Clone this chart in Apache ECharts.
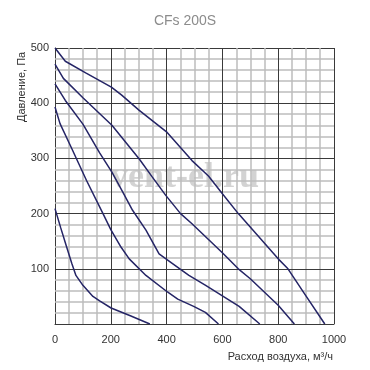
<!DOCTYPE html>
<html>
  <head>
    <meta charset="utf-8" />
    <script src="https://cdn.jsdelivr.net/npm/echarts@6/dist/echarts.min.js"></script>
    <title>CFs 200S</title>
  </head>
  <body style="margin:0">
    <style type="text/css">
      #chart {
        width: 370px;
        height: 370px;
      }
    </style>
    <div id="chart"></div>
  </body>
  <script type="text/javascript">
    // расход, м3/ч -> давление, Па (по кривым)
    const curve1 = [[0, 500], [37, 476], [110, 455], [202, 429], [238, 415], [302, 387], [402, 347], [491, 296], [550, 268], [600, 236], [657, 200], [800, 118], [835, 100], [894, 55], [967, 0]]
    const curve2 = [[0, 471], [30, 445], [100, 410], [204, 360], [249, 332], [302, 299], [349, 266], [397, 233], [450, 200], [490, 182], [598, 130], [657, 100], [700, 82], [800, 34], [858, 0]]
    const curve3 = [[0, 435], [37, 405], [100, 362], [160, 310], [204, 275], [243, 239], [278, 206], [326, 170], [373, 127], [420, 110], [480, 88], [540, 70], [600, 51], [660, 32], [734, 0]]
    const curve4 = [[0, 393], [18, 363], [60, 318], [113, 260], [172, 200], [201, 170], [237, 139], [266, 118], [326, 88], [403, 58], [440, 45], [497, 32], [539, 21], [586, 0]]
    const curve5 = [[0, 209], [20, 175], [42, 139], [60, 110], [75, 88], [100, 70], [136, 50], [160, 42], [201, 29], [270, 15], [340, 0]]
    const curves = [curve1, curve2, curve3, curve4, curve5]

    // сетка: мелкая 50 м3/ч и 20 Па, крупная 200 м3/ч и 100 Па
    var minorX = [], majorX = []
    for (var i = 50; i < 1000; i += 50) (i % 200 ? minorX : majorX).push(i)
    var minorY = [], majorY = []
    for (var j = 20; j < 500; j += 20) (j % 100 ? minorY : majorY).push(j)

    var chart = echarts.init(document.getElementById('chart'))

    var labelStyle = { color: '#333', fontSize: 11, fontFamily: 'Liberation Sans, Arial, sans-serif' }
    var major = { show: true, lineStyle: { color: '#3a3a3a', width: 1 } }

    function gridSeries(xs, ys, style, z) {
      return {
        type: 'line',
        data: [],
        z: z,
        markLine: {
          silent: true,
          symbol: 'none',
          label: { show: false },
          lineStyle: style,
          emphasis: { disabled: true },
          data: xs.map(function (v) { return { xAxis: v } })
            .concat(ys.map(function (v) { return { yAxis: v } }))
        }
      }
    }

    var option = {
      animation: false,
      title: {
        text: 'CFs 200S',
        left: 'center',
        top: 9,
        textStyle: { color: '#8c8c8c', fontSize: 14, fontWeight: 'normal', fontFamily: 'Liberation Sans, Arial, sans-serif' }
      },
      grid: { left: 55, right: 36, top: 48, bottom: 46 },
      xAxis: {
        type: 'value',
        min: 0,
        max: 1000,
        interval: 200,
        axisLine: { show: true, lineStyle: { color: '#3a3a3a' } },
        axisTick: { show: false },
        axisLabel: Object.assign({ margin: 10, formatter: function (v) { return String(v) } }, labelStyle),
        splitLine: major
      },
      yAxis: {
        type: 'value',
        min: 0,
        max: 500,
        interval: 100,
        axisLine: { show: true, lineStyle: { color: '#3a3a3a' } },
        axisTick: { show: false },
        axisLabel: Object.assign({ margin: 6, showMinLabel: false }, labelStyle),
        splitLine: major
      },
      graphic: [
        {
          type: 'text',
          left: 110,
          top: 160,
          z: 4,
          style: {
            text: 'vent-el.ru',
            fill: 'rgba(175,175,175,0.55)',
            font: 'bold 36px "Liberation Serif", serif'
          }
        },
        {
          type: 'text',
          x: 16,
          y: 122,
          rotation: Math.PI / 2,
          style: {
            text: 'Давление, Па',
            fill: '#333',
            font: '11px "Liberation Sans", Arial, sans-serif'
          }
        },
        {
          type: 'text',
          right: 37,
          top: 351,
          style: {
            text: 'Расход воздуха, м³/ч',
            fill: '#333',
            font: '11px "Liberation Sans", Arial, sans-serif'
          }
        }
      ],
      series: [
        gridSeries(minorX, minorY, { color: '#bcbcbc', width: 1.5, type: 'solid', opacity: 1 }, 1),
        gridSeries(majorX, majorY, { color: '#3a3a3a', width: 1, type: 'solid', opacity: 1 }, 2)
      ].concat(curves.map(function (c) {
        return {
          type: 'line',
          data: c,
          showSymbol: false,
          z: 5,
          lineStyle: { color: '#252566', width: 1.5 }
        }
      }))
    }

    chart.setOption(option)
  </script>
</html>
